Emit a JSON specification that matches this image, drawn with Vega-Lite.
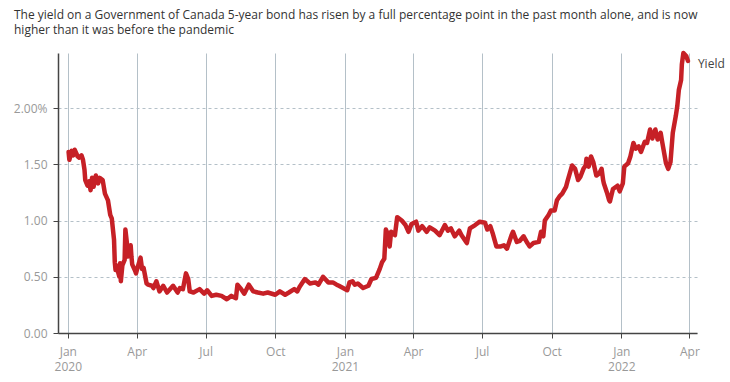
{
  "$schema": "https://vega.github.io/schema/vega-lite/v6.json",
  "width": 639,
  "height": 280,
  "autosize": {"type": "none"},
  "padding": {"left": 58, "top": 53, "right": 33, "bottom": 49},
  "background": "white",
  "title": {
    "text": ["The yield on a Government of Canada 5-year bond has risen by a full percentage point in the past month alone, and is now", "higher than it was before the pandemic"],
    "anchor": "start",
    "frame": "group",
    "dx": -44,
    "offset": 14,
    "font": "Open Sans",
    "fontSize": 12,
    "fontWeight": "normal",
    "color": "#333333",
    "lineHeight": 15
  },
  "config": {
    "view": {"stroke": null},
    "font": "Open Sans"
  },
  "datasets": {
    "yield": [
      {"date": "2020-01-02", "value": 1.61},
      {"date": "2020-01-03", "value": 1.54},
      {"date": "2020-01-06", "value": 1.62},
      {"date": "2020-01-08", "value": 1.58},
      {"date": "2020-01-10", "value": 1.63},
      {"date": "2020-01-14", "value": 1.57},
      {"date": "2020-01-16", "value": 1.56},
      {"date": "2020-01-19", "value": 1.58},
      {"date": "2020-01-21", "value": 1.54},
      {"date": "2020-01-23", "value": 1.45},
      {"date": "2020-01-24", "value": 1.36},
      {"date": "2020-01-27", "value": 1.31},
      {"date": "2020-01-29", "value": 1.35},
      {"date": "2020-01-31", "value": 1.27},
      {"date": "2020-02-02", "value": 1.38},
      {"date": "2020-02-04", "value": 1.30},
      {"date": "2020-02-07", "value": 1.40},
      {"date": "2020-02-10", "value": 1.33},
      {"date": "2020-02-12", "value": 1.38},
      {"date": "2020-02-16", "value": 1.36},
      {"date": "2020-02-19", "value": 1.24},
      {"date": "2020-02-23", "value": 1.18},
      {"date": "2020-02-26", "value": 1.05},
      {"date": "2020-02-28", "value": 1.02},
      {"date": "2020-03-02", "value": 0.83},
      {"date": "2020-03-03", "value": 0.63},
      {"date": "2020-03-04", "value": 0.56},
      {"date": "2020-03-05", "value": 0.60},
      {"date": "2020-03-09", "value": 0.50},
      {"date": "2020-03-10", "value": 0.62},
      {"date": "2020-03-11", "value": 0.46},
      {"date": "2020-03-13", "value": 0.60},
      {"date": "2020-03-16", "value": 0.65},
      {"date": "2020-03-17", "value": 0.92},
      {"date": "2020-03-19", "value": 0.80},
      {"date": "2020-03-20", "value": 0.68},
      {"date": "2020-03-23", "value": 0.75},
      {"date": "2020-03-24", "value": 0.78},
      {"date": "2020-03-25", "value": 0.68},
      {"date": "2020-03-26", "value": 0.61},
      {"date": "2020-03-30", "value": 0.55},
      {"date": "2020-03-31", "value": 0.53},
      {"date": "2020-04-02", "value": 0.58},
      {"date": "2020-04-06", "value": 0.67},
      {"date": "2020-04-08", "value": 0.57},
      {"date": "2020-04-10", "value": 0.58},
      {"date": "2020-04-14", "value": 0.44},
      {"date": "2020-04-16", "value": 0.43},
      {"date": "2020-04-21", "value": 0.42},
      {"date": "2020-04-23", "value": 0.40},
      {"date": "2020-04-27", "value": 0.46},
      {"date": "2020-05-01", "value": 0.37},
      {"date": "2020-05-06", "value": 0.42},
      {"date": "2020-05-11", "value": 0.36},
      {"date": "2020-05-19", "value": 0.42},
      {"date": "2020-05-25", "value": 0.36},
      {"date": "2020-05-28", "value": 0.40},
      {"date": "2020-06-01", "value": 0.39},
      {"date": "2020-06-05", "value": 0.53},
      {"date": "2020-06-08", "value": 0.48},
      {"date": "2020-06-10", "value": 0.37},
      {"date": "2020-06-15", "value": 0.36},
      {"date": "2020-06-23", "value": 0.39},
      {"date": "2020-06-29", "value": 0.35},
      {"date": "2020-07-03", "value": 0.38},
      {"date": "2020-07-09", "value": 0.33},
      {"date": "2020-07-15", "value": 0.34},
      {"date": "2020-07-22", "value": 0.33},
      {"date": "2020-07-29", "value": 0.30},
      {"date": "2020-08-04", "value": 0.33},
      {"date": "2020-08-10", "value": 0.31},
      {"date": "2020-08-12", "value": 0.43},
      {"date": "2020-08-17", "value": 0.39},
      {"date": "2020-08-21", "value": 0.35},
      {"date": "2020-08-27", "value": 0.43},
      {"date": "2020-09-02", "value": 0.37},
      {"date": "2020-09-08", "value": 0.36},
      {"date": "2020-09-15", "value": 0.35},
      {"date": "2020-09-21", "value": 0.36},
      {"date": "2020-10-01", "value": 0.34},
      {"date": "2020-10-07", "value": 0.37},
      {"date": "2020-10-14", "value": 0.34},
      {"date": "2020-10-19", "value": 0.36},
      {"date": "2020-10-26", "value": 0.39},
      {"date": "2020-10-30", "value": 0.37},
      {"date": "2020-11-02", "value": 0.41},
      {"date": "2020-11-09", "value": 0.48},
      {"date": "2020-11-16", "value": 0.44},
      {"date": "2020-11-23", "value": 0.45},
      {"date": "2020-11-27", "value": 0.43},
      {"date": "2020-12-03", "value": 0.50},
      {"date": "2020-12-10", "value": 0.45},
      {"date": "2020-12-16", "value": 0.45},
      {"date": "2020-12-21", "value": 0.43},
      {"date": "2020-12-24", "value": 0.42},
      {"date": "2021-01-04", "value": 0.38},
      {"date": "2021-01-07", "value": 0.45},
      {"date": "2021-01-11", "value": 0.46},
      {"date": "2021-01-14", "value": 0.43},
      {"date": "2021-01-18", "value": 0.44},
      {"date": "2021-01-25", "value": 0.40},
      {"date": "2021-02-01", "value": 0.42},
      {"date": "2021-02-05", "value": 0.48},
      {"date": "2021-02-11", "value": 0.49},
      {"date": "2021-02-16", "value": 0.57},
      {"date": "2021-02-19", "value": 0.63},
      {"date": "2021-02-22", "value": 0.66},
      {"date": "2021-02-24", "value": 0.92},
      {"date": "2021-02-26", "value": 0.89},
      {"date": "2021-03-01", "value": 0.77},
      {"date": "2021-03-03", "value": 0.90},
      {"date": "2021-03-08", "value": 0.87},
      {"date": "2021-03-11", "value": 1.03},
      {"date": "2021-03-17", "value": 1.00},
      {"date": "2021-03-22", "value": 0.96},
      {"date": "2021-03-26", "value": 0.90},
      {"date": "2021-03-30", "value": 0.97},
      {"date": "2021-04-05", "value": 0.99},
      {"date": "2021-04-08", "value": 0.91},
      {"date": "2021-04-13", "value": 0.95},
      {"date": "2021-04-19", "value": 0.90},
      {"date": "2021-04-23", "value": 0.94},
      {"date": "2021-04-30", "value": 0.91},
      {"date": "2021-05-06", "value": 0.87},
      {"date": "2021-05-13", "value": 0.96},
      {"date": "2021-05-17", "value": 0.91},
      {"date": "2021-05-21", "value": 0.93},
      {"date": "2021-05-26", "value": 0.86},
      {"date": "2021-06-01", "value": 0.91},
      {"date": "2021-06-04", "value": 0.87},
      {"date": "2021-06-11", "value": 0.80},
      {"date": "2021-06-15", "value": 0.93},
      {"date": "2021-06-22", "value": 0.96},
      {"date": "2021-06-28", "value": 0.99},
      {"date": "2021-07-05", "value": 0.98},
      {"date": "2021-07-08", "value": 0.92},
      {"date": "2021-07-12", "value": 0.95},
      {"date": "2021-07-15", "value": 0.89},
      {"date": "2021-07-20", "value": 0.77},
      {"date": "2021-07-26", "value": 0.77},
      {"date": "2021-07-30", "value": 0.78},
      {"date": "2021-08-03", "value": 0.75},
      {"date": "2021-08-09", "value": 0.87},
      {"date": "2021-08-11", "value": 0.90},
      {"date": "2021-08-16", "value": 0.81},
      {"date": "2021-08-20", "value": 0.82},
      {"date": "2021-08-25", "value": 0.86},
      {"date": "2021-08-30", "value": 0.80},
      {"date": "2021-09-02", "value": 0.77},
      {"date": "2021-09-07", "value": 0.80},
      {"date": "2021-09-14", "value": 0.81},
      {"date": "2021-09-17", "value": 0.90},
      {"date": "2021-09-20", "value": 0.86},
      {"date": "2021-09-22", "value": 1.00},
      {"date": "2021-09-27", "value": 1.05},
      {"date": "2021-09-30", "value": 1.09},
      {"date": "2021-10-05", "value": 1.09},
      {"date": "2021-10-08", "value": 1.18},
      {"date": "2021-10-12", "value": 1.22},
      {"date": "2021-10-15", "value": 1.24},
      {"date": "2021-10-20", "value": 1.30},
      {"date": "2021-10-22", "value": 1.35},
      {"date": "2021-10-28", "value": 1.49},
      {"date": "2021-11-01", "value": 1.46},
      {"date": "2021-11-05", "value": 1.36},
      {"date": "2021-11-08", "value": 1.39},
      {"date": "2021-11-12", "value": 1.46},
      {"date": "2021-11-15", "value": 1.49},
      {"date": "2021-11-16", "value": 1.55},
      {"date": "2021-11-19", "value": 1.48},
      {"date": "2021-11-22", "value": 1.57},
      {"date": "2021-11-25", "value": 1.52},
      {"date": "2021-11-29", "value": 1.40},
      {"date": "2021-12-03", "value": 1.42},
      {"date": "2021-12-06", "value": 1.46},
      {"date": "2021-12-08", "value": 1.36},
      {"date": "2021-12-09", "value": 1.33},
      {"date": "2021-12-13", "value": 1.25},
      {"date": "2021-12-16", "value": 1.18},
      {"date": "2021-12-17", "value": 1.17},
      {"date": "2021-12-21", "value": 1.28},
      {"date": "2021-12-27", "value": 1.31},
      {"date": "2021-12-30", "value": 1.26},
      {"date": "2022-01-03", "value": 1.33},
      {"date": "2022-01-05", "value": 1.48},
      {"date": "2022-01-10", "value": 1.51},
      {"date": "2022-01-13", "value": 1.57},
      {"date": "2022-01-17", "value": 1.69},
      {"date": "2022-01-20", "value": 1.64},
      {"date": "2022-01-24", "value": 1.66},
      {"date": "2022-01-27", "value": 1.61},
      {"date": "2022-02-01", "value": 1.70},
      {"date": "2022-02-04", "value": 1.69},
      {"date": "2022-02-08", "value": 1.81},
      {"date": "2022-02-11", "value": 1.73},
      {"date": "2022-02-15", "value": 1.81},
      {"date": "2022-02-18", "value": 1.72},
      {"date": "2022-02-22", "value": 1.78},
      {"date": "2022-02-24", "value": 1.70},
      {"date": "2022-03-01", "value": 1.51},
      {"date": "2022-03-04", "value": 1.46},
      {"date": "2022-03-07", "value": 1.52},
      {"date": "2022-03-10", "value": 1.78},
      {"date": "2022-03-14", "value": 1.93},
      {"date": "2022-03-16", "value": 2.02},
      {"date": "2022-03-18", "value": 2.16},
      {"date": "2022-03-21", "value": 2.25},
      {"date": "2022-03-22", "value": 2.39},
      {"date": "2022-03-24", "value": 2.49},
      {"date": "2022-03-28", "value": 2.46},
      {"date": "2022-03-30", "value": 2.42}
    ],
    "label": [
      {"date": "2022-03-30", "value": 2.42, "name": "Yield"}
    ]
  },
  "layer": [
    {
      "data": {"name": "yield"},
      "mark": {"type": "line", "color": "#c62026", "strokeWidth": 4.5, "strokeJoin": "round", "strokeCap": "round", "clip": false},
      "encoding": {
        "x": {
          "field": "date",
          "type": "temporal",
          "title": null,
          "scale": {
            "type": "utc",
            "domain": [
              {"year": 2019, "month": 12, "date": 19, "utc": true},
              {"year": 2022, "month": 4, "date": 11, "utc": true}
            ]
          },
          "axis": {
            "values": [
              {"year": 2020, "month": 1, "date": 1, "utc": true},
              {"year": 2020, "month": 4, "date": 1, "utc": true},
              {"year": 2020, "month": 7, "date": 1, "utc": true},
              {"year": 2020, "month": 10, "date": 1, "utc": true},
              {"year": 2021, "month": 1, "date": 1, "utc": true},
              {"year": 2021, "month": 4, "date": 1, "utc": true},
              {"year": 2021, "month": 7, "date": 1, "utc": true},
              {"year": 2021, "month": 10, "date": 1, "utc": true},
              {"year": 2022, "month": 1, "date": 1, "utc": true},
              {"year": 2022, "month": 4, "date": 1, "utc": true}
            ],
            "labelExpr": "utcFormat(datum.value, '%m') == '01' ? [utcFormat(datum.value, '%b'), utcFormat(datum.value, '%Y')] : utcFormat(datum.value, '%b')",
            "grid": true,
            "gridColor": "#b4c0c8",
            "gridWidth": 1,
            "domainColor": "#444444",
            "domainWidth": 1.5,
            "tickColor": "#444444",
            "tickSize": 5,
            "tickWidth": 1,
            "labelFont": "Open Sans",
            "labelFontSize": 12,
            "labelColor": "#999999",
            "labelPadding": 8,
            "labelLineHeight": 15,
            "labelBaseline": "top",
            "labelFlush": false,
            "labelOverlap": false
          }
        },
        "y": {
          "field": "value",
          "type": "quantitative",
          "title": null,
          "scale": {"domain": [0, 2.49], "nice": false, "zero": true},
          "axis": {
            "values": [0, 0.5, 1, 1.5, 2],
            "labelExpr": "datum.value == 2 ? '2.00%' : format(datum.value, '.2f')",
            "grid": true,
            "gridColor": "#b4c0c8",
            "gridDash": [3, 3],
            "gridWidth": 1,
            "domainColor": "#444444",
            "domainWidth": 1.5,
            "tickColor": "#444444",
            "tickSize": 5,
            "labelFont": "Open Sans",
            "labelFontSize": 12,
            "labelColor": "#999999",
            "labelPadding": 6
          }
        }
      }
    },
    {
      "data": {"name": "label"},
      "mark": {"type": "text", "align": "left", "baseline": "middle", "dx": 10, "dy": 3, "font": "Open Sans", "fontSize": 12, "color": "#444444", "clip": false},
      "encoding": {
        "x": {"field": "date", "type": "temporal"},
        "y": {"field": "value", "type": "quantitative"},
        "text": {"field": "name"}
      }
    }
  ]
}
